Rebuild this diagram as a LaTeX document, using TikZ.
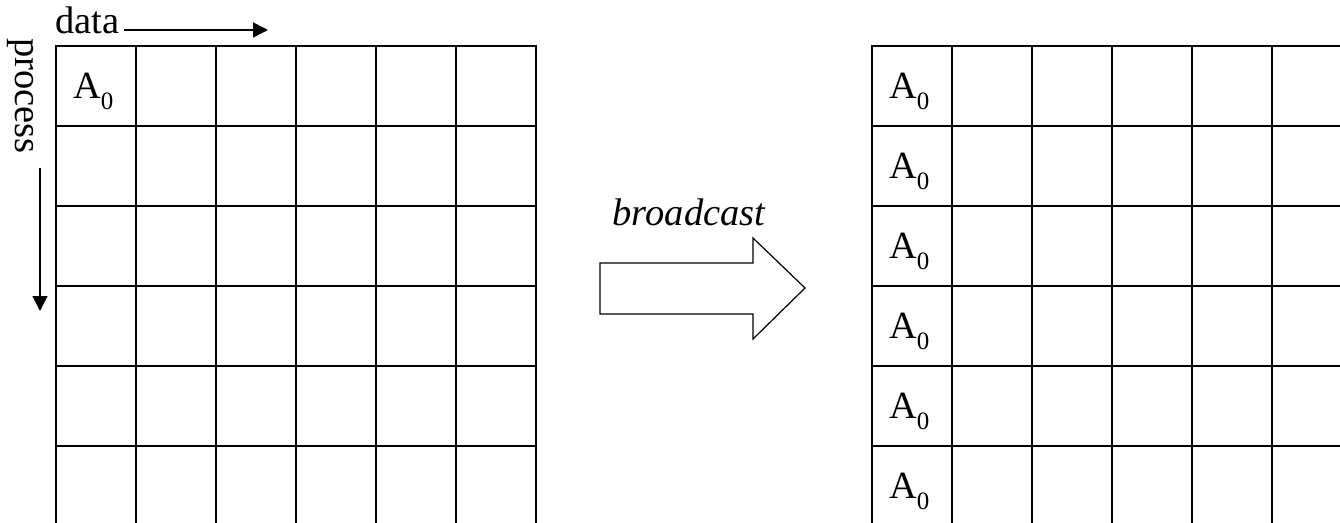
\documentclass[tikz,border=0pt]{standalone}
\usepackage{fontspec}
\setmainfont{Liberation Serif}
\usetikzlibrary{arrows.meta}
% A with subscript zero
\newcommand{\AzeroLbl}{A\raisebox{-11pt}{\fontsize{25}{25}\selectfont 0}}
\begin{document}
\begin{tikzpicture}[x=1pt,y=-1pt,
  cell/.style={draw, line width=2pt, minimum size=80pt, inner sep=0pt, outer sep=0pt},
  lbl/.style={font=\fontsize{38.5}{42}\selectfont, inner sep=0pt, outer sep=0pt},
  ax/.style={line width=1.5pt, -{Triangle[length=15pt,width=15pt]}},
  bigarrow/.style={draw, line width=1.2pt}
  ]
\clip (0,0) rectangle (1340,522);

% two 6x6 grids of cells
\foreach \r in {1,...,6} {
  \foreach \c in {1,...,6} {
    \node[cell] (L-\r-\c) at ({16+80*\c},{6+80*\r}) {};
    \node[cell] (R-\r-\c) at ({832+80*\c},{6+80*\r}) {};
  }
}

% contents
\node[lbl, anchor=base west] (LA) at (73,98) {\AzeroLbl};
\foreach \r in {1,...,6} {
  \node[lbl, anchor=base west] (RA-\r) at (889,{18+80*\r}) {\AzeroLbl};
}

% axis labels
\node[lbl, anchor=base west] (data) at (55,33) {data};
\coordinate (dataTip) at (268,30);
\draw[ax] ([xshift=5pt,yshift=3pt]data.base east) -- (dataTip);

\node[lbl, rotate=-90, anchor=base west] (proc) at (15,38) {process};
\coordinate (procStart) at (40,168);
\coordinate (procTip) at (40,311);
\draw[ax] (procStart) -- (procTip);

% broadcast arrow
\node[lbl, font=\fontsize{38.5}{42}\selectfont\itshape, anchor=base] (bc) at (689,225) {broadcast};
\draw[bigarrow] (600,263) -- (753,263) -- (753,238) -- (805,288) -- (753,339) -- (753,314) -- (600,314) -- cycle;
\end{tikzpicture}
\end{document}
